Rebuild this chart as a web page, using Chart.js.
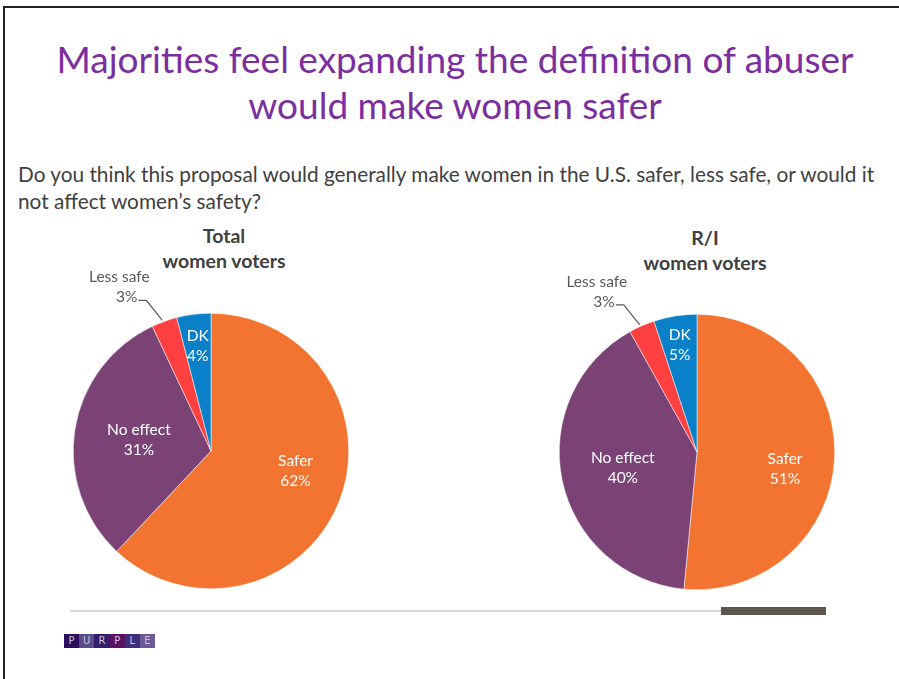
<!DOCTYPE html>
<html>
<head>
<meta charset="utf-8">
<script src="https://cdn.jsdelivr.net/npm/chart.js@4.4.1/dist/chart.umd.min.js"></script>
<style>
    body { margin: 0; background: #fff; width: 899px; height: 679px; overflow: hidden; position: relative; font-family: Lato, "Open Sans", sans-serif; }
    .moldura-topo { position: absolute; left: 3px; top: 6px; width: 896px; height: 2px; background: #222; }
    .moldura-esq { position: absolute; left: 3px; top: 6px; width: 2px; height: 673px; background: #222; }
    .titulo { position: absolute; left: 0; top: 36px; width: 910px; text-align: center; color: #7B2E9F; font-size: 37px; line-height: 46px; }
    .pergunta { position: absolute; left: 18px; top: 160px; width: 875px; color: #404040; font-size: 20.8px; line-height: 27px; }
    .subtitulo { position: absolute; text-align: center; color: #404040; font-weight: bold; font-size: 19.5px; line-height: 25px; width: 220px; }
    .grafico { position: absolute; width: 400px; height: 400px; }
    .linha-base { position: absolute; left: 70px; top: 610px; width: 700px; height: 2px; background: #D9D9D9; }
    .barra-base { position: absolute; left: 721px; top: 607px; width: 105px; height: 8px; background: #5E5750; }
    .logo { position: absolute; left: 64px; top: 634px; display: flex; }
    .logo span { width: 15.2px; height: 14px; color: #C9C3DA; font-size: 10px; line-height: 14px; text-align: center; font-family: "DejaVu Sans", sans-serif; }
</style>
</head>
<body>
    <div class="moldura-topo"></div>
    <div class="moldura-esq"></div>

    <div class="titulo">Majorities feel expanding the definition of abuser<br>would make women safer</div>
    <div class="pergunta">Do you think this proposal would generally make women in the U.S. safer, less safe, or would it not affect women’s safety?</div>

    <div class="subtitulo" style="left: 114px; top: 223px;">Total<br>women voters</div>
    <div class="subtitulo" style="left: 595px; top: 225px;">R/I<br>women voters</div>

    <div class="grafico" style="left: 11px; top: 251px;"><canvas id="graficoTotal"></canvas></div>
    <div class="grafico" style="left: 497px; top: 252px;"><canvas id="graficoRI"></canvas></div>

    <div class="linha-base"></div>
    <div class="barra-base"></div>
    <div class="logo">
        <span style="background:#2B0F5E">P</span>
        <span style="background:#5B4A8A">U</span>
        <span style="background:#2F1E6C">R</span>
        <span style="background:#5B1263">P</span>
        <span style="background:#3F2D78">L</span>
        <span style="background:#6A5A95">E</span>
    </div>

<script>
    // dados
    const categorias = ['Safer', 'No effect', 'Less safe', 'DK'];
    const valoresTotal = [62, 31, 3, 4];
    const valoresRI = [51, 40, 3, 5];
    const cores = ['#F37430', '#7B4275', '#FF4040', '#0A80C8'];

    // rotulos: dentro da fatia (fracao do raio) ou fora com linha guia
    const pluginRotulos = {
        id: 'rotulos',
        afterDatasetsDraw(chart, args, opts) {
            const ctx = chart.ctx;
            const meta = chart.getDatasetMeta(0);
            const valores = chart.data.datasets[0].data;
            ctx.save();
            meta.data.forEach((arco, i) => {
                const p = arco.getProps(['x', 'y', 'startAngle', 'endAngle', 'outerRadius'], true);
                const meio = (p.startAngle + p.endAngle) / 2;
                const texto = [chart.data.labels[i], valores[i] + '%'];
                const f = opts.fracoes[i];
                ctx.font = '15.5px Lato, "Open Sans", sans-serif';
                ctx.textBaseline = 'middle';
                if (f > 0) {
                    const cx = p.x + Math.cos(meio) * p.outerRadius * f;
                    const cy = p.y + Math.sin(meio) * p.outerRadius * f + opts.ajusteY[i];
                    ctx.fillStyle = '#fff';
                    ctx.textAlign = 'center';
                    ctx.fillText(texto[0], cx, cy - 10);
                    ctx.fillText(texto[1], cx, cy + 10);
                } else {
                    const ox = p.x + Math.cos(meio) * p.outerRadius;
                    const oy = p.y + Math.sin(meio) * p.outerRadius;
                    const ex = ox - 18, ey = oy - 21;
                    ctx.strokeStyle = '#595959';
                    ctx.lineWidth = 1.2;
                    ctx.beginPath();
                    ctx.moveTo(ox - 2, oy - 1);
                    ctx.lineTo(ex, ey);
                    ctx.lineTo(ex - 8, ey);
                    ctx.stroke();
                    ctx.fillStyle = '#595959';
                    ctx.textAlign = 'right';
                    ctx.fillText(texto[1], ex - 9, ey - 3);
                    ctx.textAlign = 'center';
                    ctx.fillText(texto[0], ex - 27, ey - 23);
                }
            });
            ctx.restore();
        }
    };

    function criarPizza(idCanvas, valores, fracoes, ajusteY) {
        const config = {
            type: 'pie',
            data: {
                labels: categorias,
                datasets: [{
                    data: valores,
                    backgroundColor: cores,
                    borderColor: '#ffffff',
                    borderWidth: 0.5
                }]
            },
            options: {
                responsive: false,
                animation: false,
                layout: { padding: 62 },
                plugins: {
                    legend: { display: false },
                    tooltip: { enabled: false },
                    rotulos: { fracoes: fracoes, ajusteY: ajusteY }
                }
            },
            plugins: [pluginRotulos]
        };
        const canvas = document.getElementById(idCanvas);
        canvas.width = 400;
        canvas.height = 400;
        return new Chart(canvas, config);
    }

    criarPizza('graficoTotal', valoresTotal, [0.66, 0.53, 0, 0.77], [-13, 0, 0, 0]);
    criarPizza('graficoRI', valoresRI, [0.64, 0.55, 0, 0.79], [13, 0, 0, 0]);
</script>
</body>
</html>
